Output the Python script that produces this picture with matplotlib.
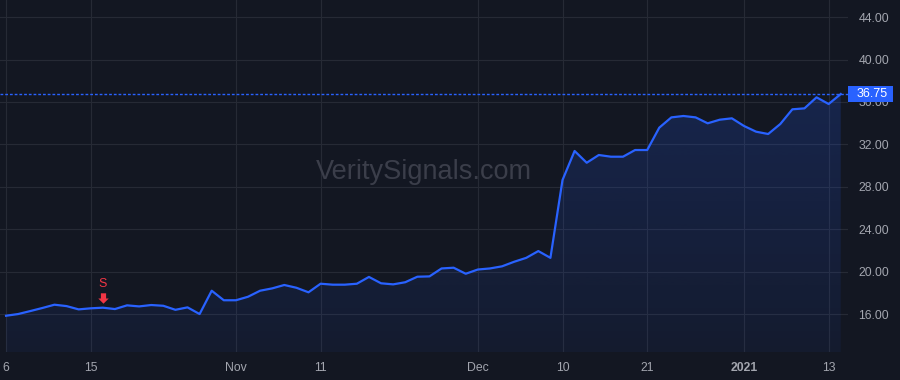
import numpy as np
import pandas as pd
import matplotlib
matplotlib.use("Agg")
import matplotlib.pyplot as plt
import matplotlib.transforms as mtransforms
from matplotlib.path import Path
from matplotlib.patches import Rectangle

# trading days Oct 6 2020 .. Jan 14 2021 (exchange holidays removed)
holidays = ["2020-11-26", "2020-12-25", "2021-01-01"]
dates = pd.bdate_range("2020-10-06", "2021-01-14")
dates = dates[~dates.isin(pd.to_datetime(holidays))]

prices = [15.84, 16.0, 16.28, 16.57, 16.88, 16.75, 16.44, 16.54, 16.6, 16.47,
          16.82, 16.72, 16.85, 16.78, 16.4, 16.63, 16.0, 18.2,
          17.3, 17.3, 17.63, 18.2, 18.42, 18.74, 18.48, 18.05, 18.86, 18.77,
          18.77, 18.86, 19.5, 18.9, 18.8, 19.0, 19.52,
          19.55, 20.3, 20.37, 19.8, 20.2, 20.3, 20.5, 20.93, 21.3, 21.94, 21.3,
          28.64, 31.38, 30.27, 31.0, 30.84, 30.84, 31.47, 31.47, 33.58, 34.55,
          34.68, 34.55, 33.99, 34.33, 34.46, 33.74, 33.2, 32.98, 33.92, 35.31,
          35.4, 36.44, 35.81, 36.75]

tick_dates = ["2020-10-06", "2020-10-15", "2020-11-02", "2020-11-11", "2020-12-01",
              "2020-12-10", "2020-12-21", "2021-01-04", "2021-01-13"]
tick_labels = ["6", "15", "Nov", "11", "Dec", "10", "21", "2021", "13"]
price_ticks = [16, 20, 24, 28, 32, 36, 40, 44]

signal_date = "2020-10-16"
signal_label = "S"
last_price = prices[-1]

bg = "#131722"
grid_c = "#262a35"
text_c = "#a3a6af"
blue = "#2962ff"
red = "#f23645"

x = np.arange(len(dates))
y = np.array(prices)

fig = plt.figure(figsize=(9, 3.8), dpi=100, facecolor=bg)
ax = fig.add_axes([0, 28 / 380, 848 / 900, 352 / 380])
ax.set_facecolor(bg)
for s in ax.spines.values():
    s.set_visible(False)

ax.set_xlim(-0.5, 69.6)
ax.set_ylim(12.42, 45.62)

# gradient fill under the line
grad = np.linspace(0.06, 0.24, 256).reshape(-1, 1)
rgba = np.zeros((256, 1, 4))
rgba[..., :3] = matplotlib.colors.to_rgb(blue)
rgba[..., 3] = grad[:, 0:1]
poly = ax.fill_between(x, y, 12.42, color="none", lw=0)
im = ax.imshow(rgba, aspect="auto", origin="lower",
               extent=[x[0], x[-1], 12.42, 45.62], zorder=1)
im.set_clip_path(poly.get_paths()[0], transform=ax.transData)

ax.plot(x, y, color=blue, lw=1.6, zorder=3, solid_joinstyle="round")
ax.axhline(last_price, color=blue, lw=1.0, linestyle=(0, (2, 1.4)), zorder=3)

# x ticks
pos = [dates.get_loc(pd.Timestamp(d)) for d in tick_dates]
ax.set_xticks(pos)
ax.set_xticklabels(tick_labels)
for lbl in ax.get_xticklabels():
    if lbl.get_text() == "2021":
        lbl.set_fontweight("bold")
ax.yaxis.tick_right()
ax.set_yticks(price_ticks)
ax.set_yticklabels([f"{v:.2f}" for v in price_ticks])
ax.tick_params(axis="both", length=0, colors=text_c, labelsize=8.8)
ax.tick_params(axis="x", pad=7)
ax.tick_params(axis="y", pad=7.5)
for lbl in ax.get_xticklabels() + ax.get_yticklabels():
    lbl.set_family("Liberation Sans")
ax.grid(True, color=grid_c, lw=0.8)
ax.set_axisbelow(True)

# last price badge
tr = ax.get_yaxis_transform()
h = 8.3 / 10.607
ax.add_patch(Rectangle((1.0, last_price - h), 45 / 848, 2 * h, transform=tr,
                       facecolor=blue, edgecolor="none", clip_on=False, zorder=6))
ax.text(1.0 + 24 / 848, last_price, f"{last_price:.2f}", transform=tr,
        ha="center", va="center", color="white", fontsize=9,
        family="Liberation Sans", zorder=7, clip_on=False)

# sell signal
si = dates.get_loc(pd.Timestamp(signal_date))
arrow = Path([(-0.25, 0.5), (0.25, 0.5), (0.25, 0.0), (0.5, 0.0), (0.0, -0.5),
              (-0.5, 0.0), (-0.25, 0.0), (-0.25, 0.5)],
             [Path.MOVETO] + [Path.LINETO] * 6 + [Path.CLOSEPOLY])
off = mtransforms.offset_copy(ax.transData, fig=fig, x=0, y=9.5, units="dots")
ax.plot([si], [prices[si]], marker=arrow, markersize=7.5, color=red,
        mec="none", transform=off, zorder=5)
ax.annotate(signal_label, xy=(si, prices[si]), xytext=(0, 23.5),
            textcoords="offset pixels", ha="center", va="center",
            color=red, fontsize=9, family="Liberation Sans", zorder=5)

# watermark
fig.text(424 / 900, 1 - 172 / 380, "VeritySignals.com", ha="center", va="center",
         color="#3b3e4a", fontsize=19.5, family="Liberation Sans")

fig.savefig("out.png", dpi=100, facecolor=bg)
